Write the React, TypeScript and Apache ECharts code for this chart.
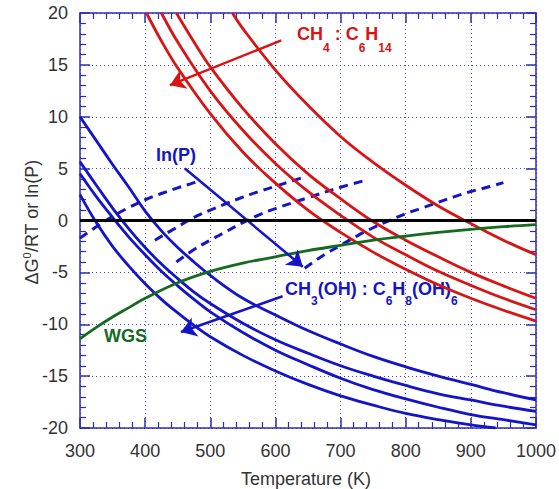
import React, { useEffect, useRef } from "react";
import * as echarts from "echarts";

// ---- data ----
const xTickLabels = [300, 400, 500, 600, 700, 800, 900, 1000];
const yTickLabels = [-20, -15, -10, -5, 0, 5, 10, 15, 20];

// alkanes (red): CH4, C2H6, C3H8, C6H14
const ch4 = [[534, 20], [550, 18.5], [600, 14.5], [650, 11.1], [700, 8.1], [750, 5.6], [800, 3.4], [850, 1.4], [900, -0.3], [950, -1.9], [1000, -3.3]];
const c2h6 = [[448, 20], [475, 17.2], [500, 14.8], [550, 10.8], [600, 7.4], [650, 4.5], [700, 2.1], [750, -0.1], [800, -1.9], [850, -3.5], [900, -5.0], [950, -6.3], [1000, -7.5]];
const c3h8 = [[425, 20], [450, 17.2], [500, 12.5], [550, 8.7], [600, 5.5], [650, 2.8], [700, 0.5], [750, -1.6], [800, -3.3], [850, -4.9], [900, -6.25], [950, -7.5], [1000, -8.6]];
const c6h14 = [[402, 20], [425, 17.3], [450, 14.7], [500, 10.3], [550, 6.6], [600, 3.6], [650, 1.0], [700, -1.15], [750, -3.05], [800, -4.7], [850, -6.2], [900, -7.5], [950, -8.65], [1000, -9.7]];

// oxygenates (blue solid): CH3OH, C2H4(OH)2, C3H5(OH)3, C6H8(OH)6
const methanol = [[300, 10], [325, 7.7], [350, 5.4], [375, 3.2], [400, 0.9], [425, -1.0], [450, -2.6], [475, -4.0], [500, -5.3], [550, -7.5], [600, -9.1], [650, -10.6], [700, -11.9], [750, -13.1], [800, -14.1], [850, -15.0], [900, -15.8], [950, -16.6], [1000, -17.3]];
const glycol = [[300, 5.66], [325, 3.4], [350, 1.2], [375, -0.8], [400, -2.6], [425, -4.2], [450, -5.6], [475, -6.9], [500, -8.0], [550, -9.9], [600, -11.5], [650, -12.8], [700, -14.0], [750, -15.0], [800, -15.9], [850, -16.7], [900, -17.3], [950, -17.9], [1000, -18.4]];
const glycerol = [[300, 4.5], [325, 2.3], [350, 0.3], [375, -1.6], [400, -3.3], [425, -4.9], [450, -6.3], [475, -7.6], [500, -8.8], [550, -10.8], [600, -12.5], [650, -13.9], [700, -15.2], [750, -16.3], [800, -17.2], [850, -18.0], [900, -18.7], [950, -19.2], [1000, -19.7]];
const sorbitol = [[300, 2.5], [325, -0.2], [350, -2.5], [375, -4.4], [400, -6.1], [425, -7.6], [450, -8.9], [475, -10.1], [500, -11.2], [550, -13.0], [600, -14.5], [650, -15.8], [700, -16.9], [750, -17.8], [800, -18.6], [850, -19.2], [900, -19.7], [938, -20.0]];

// ln(P) vapour pressures (blue dashed)
const lnPMethanol = [[300, -1.7], [325, -0.6], [350, 0.4], [375, 1.25], [400, 2.0], [425, 2.6], [450, 3.15], [475, 3.65], [482, 3.85]];
const lnPGlycol = [[415, -1.9], [450, -0.6], [475, 0.3], [500, 1.0], [525, 1.65], [550, 2.25], [575, 2.8], [600, 3.3], [625, 3.8], [640, 4.1]];
const lnPGlycerol = [[448, -4.0], [475, -2.8], [500, -1.9], [525, -1.05], [550, -0.2], [575, 0.55], [600, 1.15], [650, 2.2], [700, 3.2], [740, 3.9]];
const lnPSorbitol = [[645, -4.6], [675, -3.3], [700, -2.4], [725, -1.5], [750, -0.7], [775, 0.0], [800, 0.65], [825, 1.2], [850, 1.75], [875, 2.3], [900, 2.8], [925, 3.2], [950, 3.65]];

// water-gas shift (green)
const wgs = [[300, -11.4], [325, -10.3], [350, -9.3], [375, -8.4], [400, -7.5], [450, -6.0], [500, -4.9], [550, -4.1], [600, -3.5], [650, -2.9], [700, -2.4], [750, -1.9], [800, -1.5], [850, -1.15], [900, -0.85], [950, -0.6], [1000, -0.4]];

const zeroLine = [[300, 0], [1000, 0]];

// ---- styling / annotation positions ----
const RED = "#d81414";
const BLUE = "#1414c8";
const GREEN = "#146a1e";
const AXIS = "#2c2cb4";
const GRID = "#4a4ac8";
const FONT = "'Liberation Sans', Arial, Helvetica, sans-serif";

const arrowRed = [[609, 17.37], [438, 13.04]];
const arrowLnP = [[461, 5.02], [642, -4.45]];
const arrowOxy = [[611, -7.3], [455, -10.75]];

function lineSeries(name: string, data: number[][], color: string, width: number, dash: any, z: number) {
  return {
    name,
    type: "line",
    data,
    showSymbol: false,
    symbol: "none",
    smooth: 0.4,
    z,
    lineStyle: { color, width, type: dash },
  };
}

export default function App() {
  const ref = useRef<HTMLDivElement>(null);
  useEffect(() => {
    if (!ref.current) return;
    const chart = echarts.init(ref.current, null, { renderer: "svg" });

    const axisCommon = {
      type: "value",
      axisLine: { show: true, onZero: false, lineStyle: { color: AXIS, width: 1.5 } },
      axisTick: { show: true, inside: true, length: 10, lineStyle: { color: AXIS, width: 1.5 } },
      minorTick: { show: true, splitNumber: 5, length: 6, lineStyle: { color: AXIS, width: 1.2 } },
    };

    const option: any = {
      animation: false,
      backgroundColor: "#ffffff",
      grid: { left: 80, top: 13, width: 457, height: 415, containLabel: false },
      xAxis: [
        {
          ...axisCommon,
          position: "bottom",
          min: xTickLabels[0],
          max: xTickLabels[xTickLabels.length - 1],
          interval: 100,
          axisLabel: { color: "#333", fontSize: 18, fontFamily: FONT, margin: 14, formatter: (v: number) => String(v) },
          splitLine: { show: true, lineStyle: { color: GRID, type: [1, 3], width: 1 } },
        },
        {
          ...axisCommon,
          position: "top",
          min: xTickLabels[0],
          max: xTickLabels[xTickLabels.length - 1],
          interval: 100,
          axisLabel: { show: false },
          splitLine: { show: false },
        },
      ],
      yAxis: [
        {
          ...axisCommon,
          position: "left",
          min: yTickLabels[0],
          max: yTickLabels[yTickLabels.length - 1],
          interval: 5,
          axisLabel: { color: "#333", fontSize: 18, fontFamily: FONT, margin: 12, formatter: (v: number) => String(v) },
          splitLine: { show: true, lineStyle: { color: GRID, type: [1, 3], width: 1 } },
        },
        {
          ...axisCommon,
          position: "right",
          min: yTickLabels[0],
          max: yTickLabels[yTickLabels.length - 1],
          interval: 5,
          axisLabel: { show: false },
          splitLine: { show: false },
        },
      ],
      series: [
        lineSeries("ln(P) CH3(OH)", lnPMethanol, BLUE, 3, [9, 6], 2),
        lineSeries("ln(P) C2H4(OH)2", lnPGlycol, BLUE, 3, [9, 6], 2),
        lineSeries("ln(P) C3H5(OH)3", lnPGlycerol, BLUE, 3, [9, 6], 2),
        lineSeries("ln(P) C6H8(OH)6", lnPSorbitol, BLUE, 3, [9, 6], 2),
        lineSeries("CH3(OH)", methanol, BLUE, 2.8, "solid", 3),
        lineSeries("C2H4(OH)2", glycol, BLUE, 2.8, "solid", 3),
        lineSeries("C3H5(OH)3", glycerol, BLUE, 2.8, "solid", 3),
        lineSeries("C6H8(OH)6", sorbitol, BLUE, 2.8, "solid", 3),
        lineSeries("CH4", ch4, RED, 2.8, "solid", 3),
        lineSeries("C2H6", c2h6, RED, 2.8, "solid", 3),
        lineSeries("C3H8", c3h8, RED, 2.8, "solid", 3),
        lineSeries("C6H14", c6h14, RED, 2.8, "solid", 3),
        lineSeries("WGS", wgs, GREEN, 2.8, "solid", 4),
        {
          ...lineSeries("zero", zeroLine, "#000000", 3, "solid", 5),
          smooth: false,
          markLine: {
            silent: true,
            animation: false,
            symbol: ["none", "arrow"],
            symbolSize: 15,
            label: { show: false },
            lineStyle: { width: 2.5, type: "solid" },
            data: [
              [
                { coord: arrowRed[0], lineStyle: { color: RED, width: 2.5, type: "solid" }, itemStyle: { color: RED } },
                { coord: arrowRed[1] },
              ],
              [
                { coord: arrowLnP[0], lineStyle: { color: BLUE, width: 2.5, type: "solid" }, itemStyle: { color: BLUE } },
                { coord: arrowLnP[1] },
              ],
              [
                { coord: arrowOxy[0], lineStyle: { color: BLUE, width: 2.5, type: "solid" }, itemStyle: { color: BLUE } },
                { coord: arrowOxy[1] },
              ],
            ],
          },
        },
      ],
      graphic: [
        {
          type: "text",
          x: 31,
          y: 222,
          rotation: Math.PI / 2,
          style: {
            text: "{a|ΔG}{b|0}{a|/RT or ln(P)}",
            align: "center",
            verticalAlign: "middle",
            rich: {
              a: { fontSize: 18, fontFamily: FONT, fill: "#333", lineHeight: 20, verticalAlign: "bottom" },
              b: { fontSize: 11, fontFamily: FONT, fill: "#333", lineHeight: 8, verticalAlign: "top" },
            },
          },
        },
        {
          type: "text",
          x: 306,
          y: 479,
          style: {
            text: "Temperature (K)",
            align: "center",
            verticalAlign: "middle",
            fontSize: 18,
            fontFamily: FONT,
            fill: "#333",
          },
        },
        {
          type: "text",
          x: 297,
          y: 24.5,
          style: {
            text: "{m|CH}{s|4}{m| : C}{s|6}{m|H}{s|14}",
            align: "left",
            verticalAlign: "top",
            rich: {
              m: { fontSize: 18, fontWeight: "bold", fontFamily: FONT, fill: RED, lineHeight: 18, verticalAlign: "top" },
              s: { fontSize: 12, fontWeight: "bold", fontFamily: FONT, fill: RED, lineHeight: 29, verticalAlign: "bottom" },
            },
          },
        },
        {
          type: "text",
          x: 285,
          y: 279.5,
          style: {
            text: "{m|CH}{s|3}{m|(OH) : C}{s|6}{m|H}{s|8}{m|(OH)}{s|6}",
            align: "left",
            verticalAlign: "top",
            rich: {
              m: { fontSize: 18, fontWeight: "bold", fontFamily: FONT, fill: BLUE, lineHeight: 18, verticalAlign: "top" },
              s: { fontSize: 12, fontWeight: "bold", fontFamily: FONT, fill: BLUE, lineHeight: 27, verticalAlign: "bottom" },
            },
          },
        },
        {
          type: "text",
          x: 176,
          y: 155,
          style: {
            text: "ln(P)",
            align: "center",
            verticalAlign: "middle",
            fontSize: 18,
            fontWeight: "bold",
            fontFamily: FONT,
            fill: BLUE,
          },
        },
        {
          type: "text",
          x: 125.5,
          y: 336,
          style: {
            text: "WGS",
            align: "center",
            verticalAlign: "middle",
            fontSize: 18,
            fontWeight: "bold",
            fontFamily: FONT,
            fill: GREEN,
          },
        },
      ],
    };

    chart.setOption(option);
    return () => chart.dispose();
  }, []);

  return (
    <div
      ref={ref}
      style={{ position: "fixed", left: 0, top: 0, width: 559, height: 489, background: "#fff" }}
    />
  );
}
